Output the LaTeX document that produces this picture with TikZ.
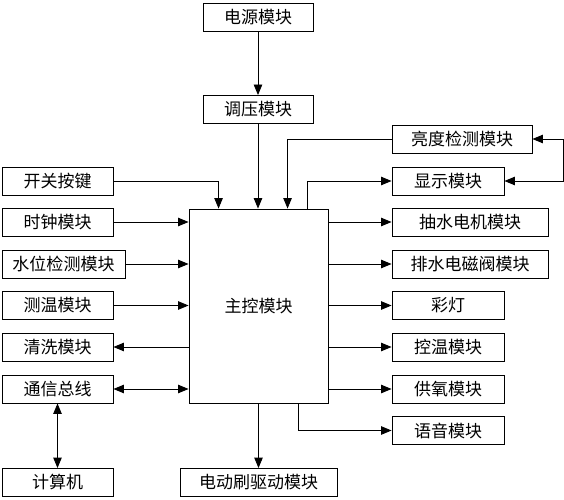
\documentclass[tikz,border=0pt]{standalone}
\usepackage{fontspec}
\newfontfamily\cjk{Noto Sans CJK SC}
\usetikzlibrary{arrows.meta,calc}
\begin{document}
\begin{tikzpicture}[x=1bp,y=-1bp,
  box/.style={draw,line width=0.9bp,minimum height=28bp,inner sep=0pt,font=\cjk\fontsize{17bp}{20bp}\selectfont},
  conn/.style={line width=0.9bp,-{Triangle[length=10.5bp,width=8.5bp]}},
  bconn/.style={line width=0.9bp,{Triangle[length=10.5bp,width=8.5bp]}-{Triangle[length=10.5bp,width=8.5bp]}}]
\useasboundingbox (0,0) rectangle (564,500);
% top
\node[box,minimum width=110bp] (pw) at (258,17) {电源模块};
\node[box,minimum width=110bp] (ty) at (258,109.5) {调压模块};
% main
\node[box,minimum width=139bp,minimum height=194bp] (main) at (258.5,306) {主控模块};
% left column
\node[box,minimum width=111bp] (kg) at (57.5,181) {开关按键};
\node[box,minimum width=111bp] (sz) at (57.5,222) {时钟模块};
\node[box,minimum width=123bp] (sw) at (63.5,264) {水位检测模块};
\node[box,minimum width=111bp] (cw) at (57.5,305.5) {测温模块};
\node[box,minimum width=111bp] (qx) at (57.5,347) {清洗模块};
\node[box,minimum width=111bp] (tx) at (57.5,389) {通信总线};
\node[box,minimum width=111bp] (jsj) at (57.5,482.5) {计算机};
% right column
\node[box,minimum width=140bp] (ld) at (462,139) {亮度检测模块};
\node[box,minimum width=112bp] (xs) at (448,181) {显示模块};
\node[box,minimum width=156bp] (cs) at (470,222) {抽水电机模块};
\node[box,minimum width=156bp] (ps) at (470,264) {排水电磁阀模块};
\node[box,minimum width=112bp] (cd) at (448,305.5) {彩灯};
\node[box,minimum width=112bp] (kw) at (448,347) {控温模块};
\node[box,minimum width=112bp] (gy) at (448,389) {供氧模块};
\node[box,minimum width=112bp] (yy) at (448,430.5) {语音模块};
% bottom
\node[box,minimum width=157bp] (ds) at (258.5,482.5) {电动刷驱动模块};
\coordinate (fb) at (563,160);
% connectors
\draw[conn] (pw) -- (ty);
\draw[conn] (ty.south) -- (ty.south |- main.north);
\draw[conn] (kg.east) -| ($(main.north west)+(30,0)$);
\draw[conn] (ld.west) -| ($(main.north west)+(99,0)$);
\draw[conn] ($(main.north west)+(119,0)$) |- (xs.west);
\draw[bconn] (ld.east) -- (ld.east -| fb) -- (xs.east -| fb) -- (xs.east);
\draw[conn] (sz.east) -- (sz.east -| main.west);
\draw[conn] (sw.east) -- (sw.east -| main.west);
\draw[conn] (cw.east) -- (cw.east -| main.west);
\draw[conn] (qx.east -| main.west) -- (qx.east);
\draw[bconn] (tx.east) -- (tx.east -| main.west);
\draw[bconn] (tx.south) -- (jsj.north);
\draw[conn] (cs.west -| main.east) -- (cs.west);
\draw[conn] (ps.west -| main.east) -- (ps.west);
\draw[conn] (cd.west -| main.east) -- (cd.west);
\draw[conn] (kw.west -| main.east) -- (kw.west);
\draw[conn] (gy.west -| main.east) -- (gy.west);
\draw[conn] (main.south) -- (ds.north);
\draw[conn] ($(main.south west)+(109.5,0)$) |- (yy.west);
\end{tikzpicture}
\end{document}
